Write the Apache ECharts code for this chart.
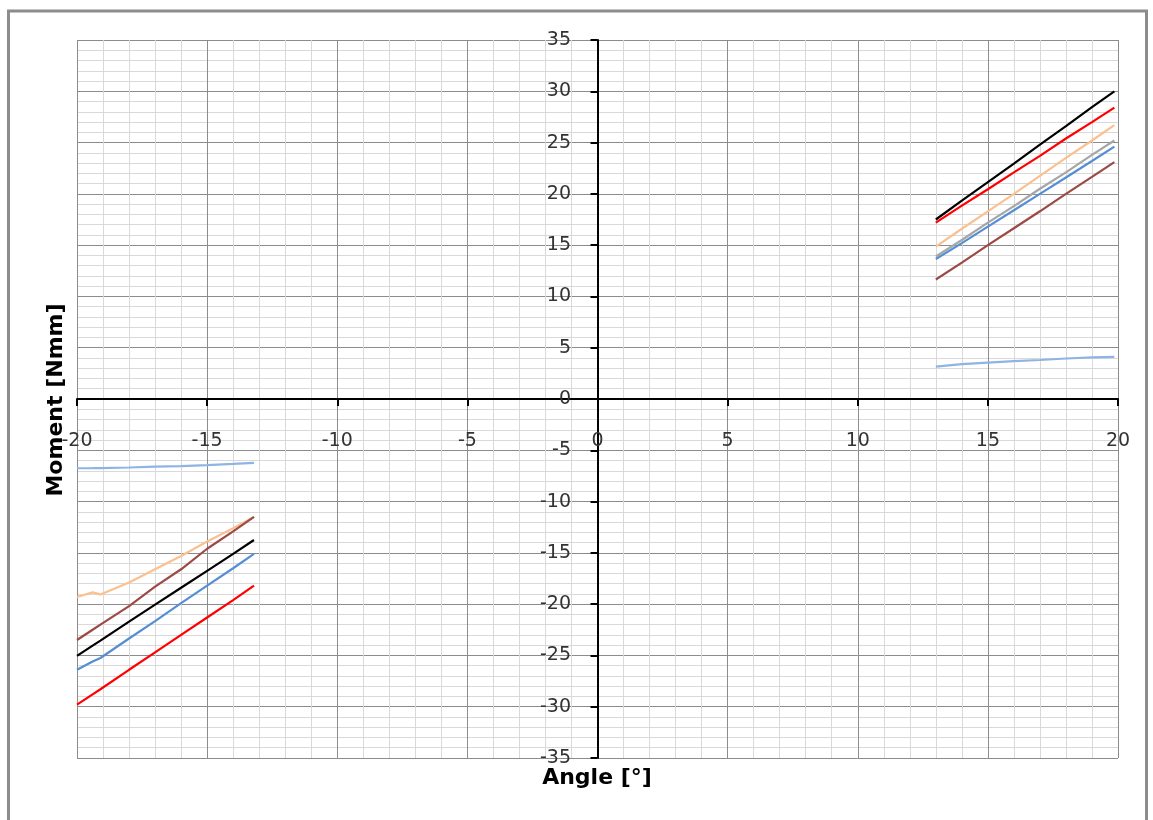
<!DOCTYPE html>
<html>
<head>
<meta charset="utf-8">
<script src="https://cdn.jsdelivr.net/npm/echarts@6/dist/echarts.min.js"></script>
<style>
html, body { margin: 0; padding: 0; background: #fff; }
#chart { width: 1153px; height: 820px; }
</style>
</head>
<body>
<div id="chart"></div>
<script>
// angle values (deg) for the two measured ranges
var xLeft = [-20, -19.4, -19.1, -18, -17, -16, -15, -14, -13.2];
var xRight = [13, 14, 15, 16, 17, 18, 19, 19.86];

// moment [Nmm], negative range
var lightBlueL = [-6.75, -6.74, -6.73, -6.68, -6.6, -6.55, -6.45, -6.33, -6.22];
var orangeL = [-19.3, -18.85, -19.05, -17.9, -16.6, -15.3, -13.9, -12.6, -11.5];
var brownL = [-23.5, -22.5, -22.0, -20.2, -18.3, -16.6, -14.6, -12.9, -11.5];
var blackL = [-25.05, -24.05, -23.55, -21.7, -20.05, -18.4, -16.75, -15.1, -13.75];
var blueL = [-26.4, -25.6, -25.25, -23.35, -21.65, -19.9, -18.2, -16.5, -15.1];
var redL = [-29.8, -28.8, -28.3, -26.4, -24.7, -23.0, -21.3, -19.6, -18.2];

// moment [Nmm], positive range
var blackR = [17.5, 19.35, 21.15, 22.95, 24.8, 26.6, 28.45, 30.0];
var redR = [17.2, 18.85, 20.45, 22.1, 23.7, 25.4, 27.0, 28.4];
var orangeR = [14.85, 16.6, 18.3, 20.0, 21.75, 23.5, 25.2, 26.7];
var grayR = [13.9, 15.5, 17.2, 18.8, 20.5, 22.1, 23.8, 25.2];
var blueR = [13.65, 15.2, 16.8, 18.4, 20.0, 21.6, 23.2, 24.6];
var brownR = [11.65, 13.3, 15.0, 16.65, 18.3, 20.0, 21.65, 23.1];
var lightBlueR = [3.15, 3.4, 3.55, 3.7, 3.8, 3.95, 4.05, 4.1];

var xTicks = [-20, -15, -10, -5, 0, 5, 10, 15, 20];
var yTicks = [-35, -30, -25, -20, -15, -10, -5, 0, 5, 10, 15, 20, 25, 30, 35];

function pairs(xs, ys) {
    return xs.map(function (x, i) { return [x, ys[i]]; });
}

function line(name, xs, ys, color) {
    return {
        name: name,
        type: 'line',
        data: pairs(xs, ys),
        showSymbol: false,
        symbol: 'none',
        lineStyle: { color: color, width: 2.2 },
        itemStyle: { color: color }
    };
}

var chart = echarts.init(document.getElementById('chart'));

// labels sit next to the zero lines, so pull them in from the grid edges
var option = {
    animation: false,
    grid: { left: 77, right: 35, top: 40, bottom: 62 },
    xAxis: {
        type: 'value',
        min: xTicks[0],
        max: xTicks[xTicks.length - 1],
        interval: 5,
        axisLine: { onZero: true, lineStyle: { color: '#000', width: 2 } },
        axisTick: { show: true, length: 7, lineStyle: { color: '#000', width: 2 } },
        axisLabel: {
            margin: -326, color: '#333', fontSize: 19, fontFamily: 'DejaVu Sans',
            showMinLabel: true, showMaxLabel: true
        },
        splitLine: { show: true, lineStyle: { color: '#8c8c8c', width: 1 } },
        minorTick: { show: false, splitNumber: 5 },
        minorSplitLine: { show: true, lineStyle: { color: '#d9d9d9', width: 1 } }
    },
    yAxis: {
        type: 'value',
        min: yTicks[0],
        max: yTicks[yTicks.length - 1],
        interval: 5,
        axisLine: { onZero: true, lineStyle: { color: '#000', width: 2 } },
        axisTick: { show: true, length: 7, lineStyle: { color: '#000', width: 2 } },
        axisLabel: {
            margin: -494, color: '#333', fontSize: 19, fontFamily: 'DejaVu Sans',
            showMinLabel: true, showMaxLabel: true
        },
        splitLine: { show: true, lineStyle: { color: '#8c8c8c', width: 1 } },
        minorTick: { show: false, splitNumber: 5 },
        minorSplitLine: { show: true, lineStyle: { color: '#d9d9d9', width: 1 } }
    },
    graphic: [
        {
            type: 'rect',
            shape: { x: 8.5, y: 11, width: 1138, height: 830 },
            style: { fill: 'none', stroke: '#8c8c8c', lineWidth: 3 },
            silent: true
        },
        {
            type: 'text',
            x: 597, y: 778,
            style: {
                text: 'Angle [°]', fill: '#000',
                font: 'bold 22px "DejaVu Sans"',
                align: 'center', verticalAlign: 'middle'
            }
        },
        {
            type: 'text',
            x: 56, y: 400,
            rotation: Math.PI / 2,
            style: {
                text: 'Moment [Nmm]', fill: '#000',
                font: 'bold 22px "DejaVu Sans"',
                align: 'center', verticalAlign: 'middle'
            }
        }
    ],
    series: [
        line('light blue L', xLeft, lightBlueL, '#8eb4e3'),
        line('orange L', xLeft, orangeL, '#fac090'),
        line('brown L', xLeft, brownL, '#9b4a46'),
        line('black L', xLeft, blackL, '#000000'),
        line('blue L', xLeft, blueL, '#558ed5'),
        line('red L', xLeft, redL, '#ff0000'),
        line('light blue R', xRight, lightBlueR, '#8eb4e3'),
        line('brown R', xRight, brownR, '#9b4a46'),
        line('gray R', xRight, grayR, '#a6a6a6'),
        line('blue R', xRight, blueR, '#558ed5'),
        line('orange R', xRight, orangeR, '#fac090'),
        line('red R', xRight, redR, '#ff0000'),
        line('black R', xRight, blackR, '#000000')
    ]
};

chart.setOption(option);
</script>
</body>
</html>
